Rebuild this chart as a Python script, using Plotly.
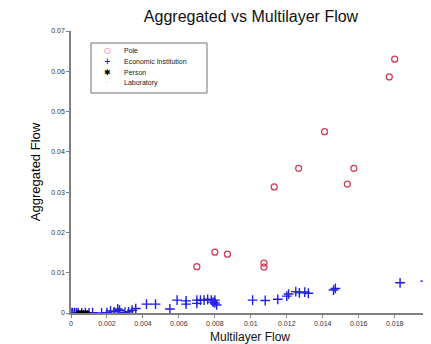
import plotly.graph_objects as go

# ---- data ----
pole_x = [0.0070, 0.0080, 0.0087, 0.01073, 0.01073, 0.0113, 0.01266, 0.0141, 0.01537, 0.01573, 0.0177, 0.0180]
pole_y = [0.0115, 0.0151, 0.0146, 0.0124, 0.0114, 0.0313, 0.0359, 0.0450, 0.0320, 0.0359, 0.0586, 0.0630]

econ_x = [0.00005, 0.0001, 0.0002, 0.0003, 0.0004, 0.0006, 0.0008, 0.0010, 0.0012,
          0.0017, 0.0020, 0.0022, 0.0024, 0.0026, 0.0027, 0.0030, 0.0032, 0.0034, 0.0036,
          0.0042, 0.0047, 0.0055, 0.0059, 0.0064, 0.0064, 0.0070, 0.0070, 0.0072, 0.0074,
          0.0076, 0.0078, 0.0079, 0.0080, 0.0080, 0.0081,
          0.0101, 0.0108, 0.0115, 0.0120, 0.0121, 0.0125, 0.0127, 0.0130, 0.0132,
          0.0146, 0.0147, 0.0183, 0.0197]
econ_y = [0.0001, 0.0000, 0.0001, 0.0000, 0.0001, 0.0000, 0.0001, 0.0000, 0.0001,
          0.0000, 0.0001, 0.0005, 0.0003, 0.0010, 0.0007, 0.0002, 0.0003, 0.0007, 0.0011,
          0.0022, 0.0022, 0.0010, 0.0032, 0.0030, 0.0022, 0.0032, 0.0024, 0.0032, 0.0032,
          0.0034, 0.0032, 0.0027, 0.0032, 0.0025, 0.0020,
          0.0032, 0.0031, 0.0034, 0.0042, 0.0047, 0.0053, 0.0050, 0.0052, 0.0049,
          0.0057, 0.0061, 0.0075, 0.0079]

person_x = [0.0004, 0.0005, 0.0006, 0.0007, 0.0008, 0.0009]
person_y = [0.0000, 0.0000, 0.0000, 0.0000, 0.0000, 0.0000]

lab_x = [0.0025, 0.0071, 0.0123, 0.0147, 0.0184]
lab_y = [0.0004, 0.0030, 0.0049, 0.0059, 0.0074]

x_ticks = [0, 0.002, 0.004, 0.006, 0.008, 0.01, 0.012, 0.014, 0.016, 0.018, 0.02]
x_tick_labels = ["0", "0.002", "0.004", "0.006", "0.008", "0.01", "0.012", "0.014", "0.016", "0.018", "0.02"]
y_ticks = [0, 0.01, 0.02, 0.03, 0.04, 0.05, 0.06, 0.07]
y_tick_labels = ["0", "0.01", "0.02", "0.03", "0.04", "0.05", "0.06", "0.07"]

legend_names = ["Pole", "Economic Institution", "Person", "Laboratory"]
legend_symbols = ["○", "<b>+</b>", "✱", "·"]
legend_colors = ["#d0405a", "#2020e0", "#000000", "#eeeab0"]

# page body adds an 8px offset; work in window coordinates and convert
OFF = 8
W, H = 431 - OFF, 344 - OFF
PL, PR, PT, PB = 71 - OFF, 431 - OFF, 31 - OFF, 313 - OFF  # plot box in figure px
PW, PH = PR - PL, PB - PT


def px_x(sx):
    return (sx - OFF - PL) / PW


def px_y(sy):
    return (PB - (sy - OFF)) / PH


fig = go.Figure()
fig.add_trace(go.Scatter(x=lab_x, y=lab_y, mode="markers", name="Laboratory",
                         marker=dict(color="#f6f2b8", size=5, opacity=0.7)))
fig.add_trace(go.Scatter(x=econ_x, y=econ_y, mode="markers", name="Economic Institution",
                         marker=dict(symbol="cross-thin-open", size=7, color="#2020e0",
                                     line=dict(color="#2020e0", width=1.4))))
fig.add_trace(go.Scatter(x=person_x, y=person_y, mode="markers", name="Person",
                         marker=dict(symbol="asterisk-open", size=5, color="#000000",
                                     line=dict(color="#000000", width=1.2))))
fig.add_trace(go.Scatter(x=pole_x, y=pole_y, mode="markers", name="Pole",
                         marker=dict(symbol="circle-open", size=6, color="#d0405a",
                                     line=dict(color="#d0405a", width=1.3))))

# legend drawn manually (compact, like the reference)
fig.add_shape(type="rect", xref="paper", yref="paper",
              x0=px_x(91), x1=px_x(207), y0=px_y(93), y1=px_y(43),
              line=dict(color="#707070", width=1), fillcolor="white", layer="above")
row_y = [50.7, 61.7, 72.5, 83.3]
for name, sym, col, ry in zip(legend_names, legend_symbols, legend_colors, row_y):
    fig.add_annotation(xref="paper", yref="paper", x=px_x(107), y=px_y(ry),
                       text=sym, showarrow=False, xanchor="center", yanchor="middle",
                       font=dict(size=8 if sym != "·" else 12, color=col, family="DejaVu Sans"))
    fig.add_annotation(xref="paper", yref="paper", x=px_x(122), y=px_y(ry),
                       text=name, showarrow=False, xanchor="left", yanchor="middle",
                       font=dict(size=7, color="#202020", family="Liberation Sans"))

# x-axis title
fig.add_annotation(xref="paper", yref="paper", x=px_x(250), y=px_y(337),
                   text="Multilayer Flow", showarrow=False, xanchor="center", yanchor="middle",
                   font=dict(size=12, color="#111111", family="Liberation Sans"))

fig.update_layout(
    width=W, height=H,
    margin=dict(l=PL, r=W - PR, t=PT, b=H - PB),
    paper_bgcolor="white", plot_bgcolor="white",
    showlegend=False,
    font=dict(family="Liberation Sans", color="#000000"),
    title=dict(text="Aggregated vs Multilayer Flow", x=(251 - OFF) / W, xanchor="center",
               y=1 - (16 - OFF) / H, yanchor="middle", yref="container",
               font=dict(size=16, color="#111111")),
)
fig.update_xaxes(range=[0, 0.02002], tickvals=x_ticks, ticktext=x_tick_labels,
                 showgrid=False, zeroline=False, showline=True, linecolor="#808080", linewidth=1.5,
                 ticks="outside", ticklen=3, tickcolor="#808080",
                 tickfont=dict(size=7, color="#333333"))
fig.update_yaxes(range=[0, 0.07], tickvals=y_ticks, ticktext=y_tick_labels,
                 showgrid=False, zeroline=False, showline=True, linecolor="#808080", linewidth=1.5,
                 ticks="outside", ticklen=3, tickcolor="#808080",
                 tickfont=dict(size=7, color="#333333"),
                 title=dict(text="Aggregated Flow", font=dict(size=13), standoff=8))

fig.write_html("out.html")
